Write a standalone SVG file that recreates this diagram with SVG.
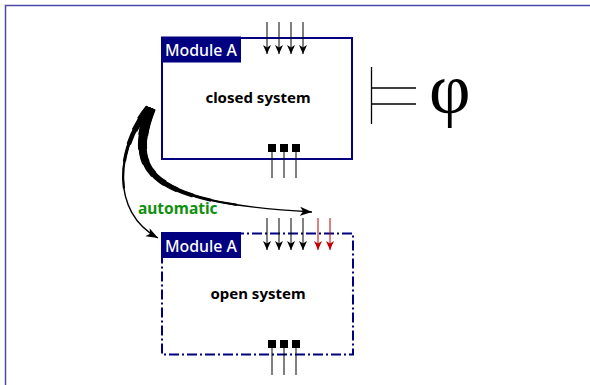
<svg xmlns="http://www.w3.org/2000/svg" xmlns:xlink="http://www.w3.org/1999/xlink" width="590" height="385" viewBox="0 0 590 385">
<style>
.box{fill:#fff;stroke:#000080;stroke-width:2}
.dash{stroke-dasharray:10 3 2 3}
.tab{fill:#000080}
.tabt{font-family:"Noto Sans","Open Sans",sans-serif;font-size:15.5px;font-weight:500;fill:#fff}
.lbl{font-family:"Noto Sans","Open Sans",sans-serif;font-size:15px;font-weight:bold;fill:#000;text-anchor:middle}
.in{stroke:#000;stroke-width:1;fill:none;marker-end:url(#ah)}
.inr{stroke:#c00000;stroke-width:1;fill:none;marker-end:url(#ahr)}
.pin{stroke:#000;stroke-width:1}
.sq{fill:#000}
.br{fill:none;stroke:#000;stroke-linecap:butt}
</style>
<defs>
<marker id="ah" markerUnits="userSpaceOnUse" viewBox="0 0 9 8" markerWidth="9" markerHeight="8" refX="9" refY="4" orient="auto"><path d="M0,0 L9,4 L0,8 L2.5,4 Z" fill="#000"/></marker>
<marker id="ahr" markerUnits="userSpaceOnUse" viewBox="0 0 9 8" markerWidth="9" markerHeight="8" refX="9" refY="4" orient="auto"><path d="M0,0 L9,4 L0,8 L2.5,4 Z" fill="#c00000"/></marker>
<marker id="ahb" markerUnits="userSpaceOnUse" viewBox="0 0 12 10" markerWidth="12" markerHeight="10" refX="12" refY="5" orient="auto"><path d="M0,0.5 L12,5 L0,9.5 L3,5 Z" fill="#000"/></marker>
<path id="rb" d="M151,108 C124,176 156,203 312,212" pathLength="100"/>
<path id="lb" d="M149,108 C116,148 110,212 158,238" pathLength="100"/>
</defs>
<rect width="590" height="385" fill="#fff"/>
<g id="frame" fill="none" stroke="#4a4aa6" stroke-width="1.5">
<path d="M5.5,385 L5.5,5.5 L590,5.5"/>
</g>
<g id="closed">
<rect class="box" x="162" y="38" width="190" height="121"/>
<rect class="tab" x="161" y="36.5" width="80" height="26"/>
<text class="tabt" x="165" y="55.5" textLength="72" lengthAdjust="spacingAndGlyphs">Module A</text>
<text class="lbl" x="258" y="103">closed system</text>
<line class="in" x1="267" y1="22" x2="267" y2="54"/>
<line class="in" x1="279" y1="22" x2="279" y2="54"/>
<line class="in" x1="291" y1="22" x2="291" y2="54"/>
<line class="in" x1="303" y1="22" x2="303" y2="54"/>
<rect class="sq" x="268" y="144" width="8" height="8"/>
<rect class="sq" x="280" y="144" width="8" height="8"/>
<rect class="sq" x="292" y="144" width="8" height="8"/>
<line class="pin" x1="272" y1="152" x2="272" y2="178"/>
<line class="pin" x1="284" y1="152" x2="284" y2="178"/>
<line class="pin" x1="296" y1="152" x2="296" y2="178"/>
</g>
<g id="open">
<rect class="box dash" x="162" y="233.5" width="191" height="121"/>
<rect class="tab" x="161" y="232" width="80" height="26"/>
<text class="tabt" x="165" y="251.5" textLength="72" lengthAdjust="spacingAndGlyphs">Module A</text>
<text class="lbl" x="258" y="299">open system</text>
<line class="in" x1="267" y1="218" x2="267" y2="250"/>
<line class="in" x1="279" y1="218" x2="279" y2="250"/>
<line class="in" x1="291" y1="218" x2="291" y2="250"/>
<line class="in" x1="303" y1="218" x2="303" y2="250"/>
<line class="inr" x1="318" y1="218" x2="318" y2="250"/>
<line class="inr" x1="330" y1="218" x2="330" y2="250"/>
<rect class="sq" x="268" y="340" width="8" height="8"/>
<rect class="sq" x="280" y="340" width="8" height="8"/>
<rect class="sq" x="292" y="340" width="8" height="8"/>
<line class="pin" x1="272" y1="348" x2="272" y2="375"/>
<line class="pin" x1="284" y1="348" x2="284" y2="375"/>
<line class="pin" x1="296" y1="348" x2="296" y2="375"/>
</g>
<g id="entails">
<path d="M371.5,67 L371.5,124 M371.5,88 L416,88 M371.5,104 L416,104" stroke="#000" stroke-width="1.3" fill="none"/>
<text x="429" y="113" font-family="Liberation Serif,serif" font-size="72">φ</text>
</g>
<g id="connectors">
<use xlink:href="#lb" class="br" stroke-width="7.5" stroke-dasharray="10 200"/>
<use xlink:href="#lb" class="br" stroke-width="6" stroke-dasharray="18 200"/>
<use xlink:href="#lb" class="br" stroke-width="4.5" stroke-dasharray="28 200"/>
<use xlink:href="#lb" class="br" stroke-width="3.2" stroke-dasharray="40 200"/>
<use xlink:href="#lb" class="br" stroke-width="2.2" stroke-dasharray="58 200"/>
<path d="M149,108 C116,148 110,212 158,238" fill="none" stroke="#000" stroke-width="1.4" marker-end="url(#ahb)"/>
<use xlink:href="#rb" class="br" stroke-width="10" stroke-dasharray="12 200"/>
<use xlink:href="#rb" class="br" stroke-width="9" stroke-dasharray="18 200"/>
<use xlink:href="#rb" class="br" stroke-width="8" stroke-dasharray="24 200"/>
<use xlink:href="#rb" class="br" stroke-width="7" stroke-dasharray="30 200"/>
<use xlink:href="#rb" class="br" stroke-width="6" stroke-dasharray="36 200"/>
<use xlink:href="#rb" class="br" stroke-width="5" stroke-dasharray="42 200"/>
<use xlink:href="#rb" class="br" stroke-width="4" stroke-dasharray="49 200"/>
<use xlink:href="#rb" class="br" stroke-width="3" stroke-dasharray="57 200"/>
<use xlink:href="#rb" class="br" stroke-width="2.2" stroke-dasharray="68 200"/>
<path d="M151,108 C124,176 156,203 312,212" fill="none" stroke="#000" stroke-width="1.4" marker-end="url(#ahb)"/>
<text x="138" y="214" font-family="Noto Sans,Open Sans,sans-serif" font-size="15.5" font-weight="bold" fill="#109010">automatic</text>
</g>
</svg>
